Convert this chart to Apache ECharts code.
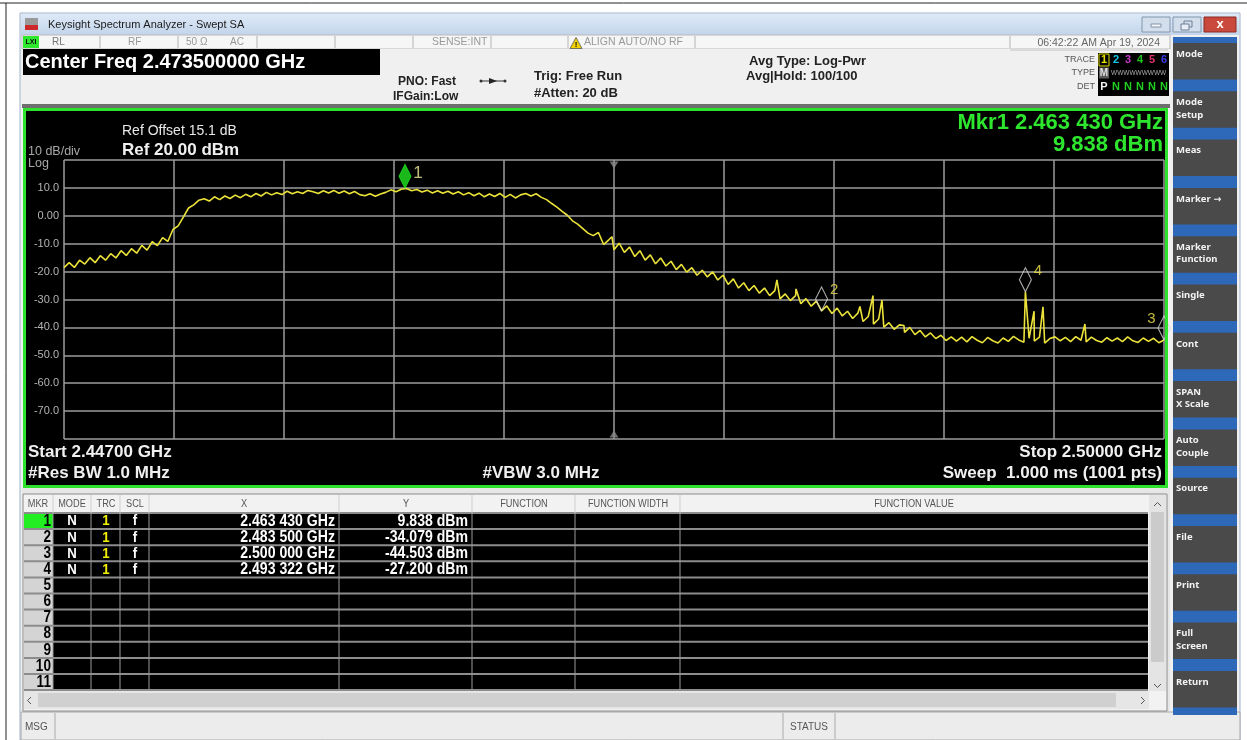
<!DOCTYPE html>
<html><head><meta charset="utf-8">
<script src="https://cdn.jsdelivr.net/npm/echarts@6/dist/echarts.min.js"></script>
<style>html,body{margin:0;padding:0;background:#fff;overflow:hidden}#c{width:1247px;height:740px}</style>
</head><body><div id="c"></div>
<script>
// ---------------- data ----------------
const startGHz = 2.447;
const stopGHz = 2.500;
const centerGHz = 2.4735;
const refLevel = 20;
const refOffset = 15.1;
const traceStepMHz = 0.25;
const traceLevels = [
 -18.6,-16.8,-18.5,-15.9,-17.3,-15.0,-16.8,-14.3,-15.9,-13.6,
 -15.1,-12.5,-14.2,-11.8,-13.4,-10.6,-12.3,-9.3,-10.7,-7.8,
 -9.2,-4.9,-3.6,-0.5,2.8,3.9,5.6,6.1,5.3,6.8,
 5.8,7.1,
 6.2,7.4,6.5,7.7,6.8,8.0,7.1,8.4,7.5,8.3,7.6,8.8,7.9,8.6,8.0,9.1,
 8.6,8.0,9.0,8.2,9.1,8.1,8.9,7.9,8.7,7.6,7.2,7.9,7.0,7.8,8.4,9.3,8.6,9.5,9.8,9.0,
 9.4,8.5,9.2,8.2,9.0,8.1,8.8,7.8,8.6,7.5,8.3,7.2,8.1,6.8,7.8,6.9,8.0,6.6,7.7,6.4,
 7.5,8.0,7.1,7.9,
 6.6,5.8,4.4,3.1,1.6,0.2,-1.8,-3.0,-4.6,-6.2,-7.1,-6.0,-10.3,-8.6,-12.2,-9.8,
 -13.1,-11.2,-14.6,-12.5,-15.9,-14.0,-17.2,-15.1,-18.0,-16.3,-19.3,-17.4,-20.2,-18.6,
 -21.3,-19.5,-21.9,-20.1,-23.0,-21.3,-24.6,-22.6,-25.9,-24.0,-26.8,-25.0,-27.7,-25.9,
 -28.6,-26.8,-29.8,-28.0,-30.4,-28.6,-31.5,-29.7,-32.4,-30.6,-34.1,-32.3,-35.0,-33.1,
 -35.9,-34.2,-36.8,-34.9,-37.9,-36.1,-38.8,-37.0,-39.9,-38.3,-40.7,-39.1,-41.8,-40.0,
 -42.6,-41.1,-43.4,-42.0,-44.0,-42.8,-44.7,-43.4,-44.9,-43.5,-45.2,-43.3,-44.6,-45.5,
 -43.6,-44.8,-45.6,-43.8,-45.0,-43.2,-44.5,-45.3,-43.9,-44.9,-43.5,-45.6,-44.0,-43.4,
 -44.8,-43.6,-45.1,-43.3,-44.6,-45.2,-43.5,-44.7,-45.3,-43.7,-44.9,-43.8,-45.1,-43.4,
 -44.8,-45.4,-43.8,-45.0,-43.9,-45.5,-44.5
];
const spurFreqGHz = [2.47340, 2.48135, 2.48227, 2.48535, 2.48598, 2.48641, 2.48747, 2.493322, 2.49374, 2.49417, 2.49619];
const spurLevels  = [-7.5, -23.0, -26.2, -32.5, -28.6, -30.2, -39.3, -27.2, -34.2, -32.6, -38.8];
const markerIds = [1, 2, 3, 4];
const markerFreqGHz = [2.463430, 2.483500, 2.500000, 2.493322];
const markerLevels = [9.838, -34.079, -44.503, -27.200];
const markerModes = ['N','N','N','N'];
const markerTraces = ['1','1','1','1'];
const markerScales = ['f','f','f','f'];
const tableRowCount = 11;
const softkeys = [['Mode'],['Mode','Setup'],['Meas'],['Marker \u2192'],['Marker','Function'],['Single'],['Cont'],['SPAN','X Scale'],['Auto','Couple'],['Source'],['File'],['Print'],['Full','Screen'],['Return']];

// ---------------- helpers ----------------
const SANS = '"Liberation Sans", Arial, Helvetica, sans-serif';
const UI = '"Noto Sans", "DejaVu Sans", sans-serif';
const G = [];
function R(x,y,w,h,fill,z,stroke,lw){G.push({type:'rect',silent:true,z:(z==null?-5:z),shape:{x:x,y:y,width:w,height:h},style:{fill:fill||'none',stroke:stroke||'none',lineWidth:lw||0}});}
function L(x1,y1,x2,y2,c,lw,z){G.push({type:'line',silent:true,z:(z==null?-4:z),shape:{x1:x1,y1:y1,x2:x2,y2:y2},style:{stroke:c,lineWidth:lw||1}});}
function P(pts,fill,stroke,lw,z){G.push({type:'polygon',silent:true,z:(z==null?-4:z),shape:{points:pts},style:{fill:fill||'none',stroke:stroke||'none',lineWidth:lw||0}});}
function PL(pts,stroke,lw,z){G.push({type:'polyline',silent:true,z:(z==null?-4:z),shape:{points:pts},style:{fill:'none',stroke:stroke,lineWidth:lw||1}});}
function T(x,y,t,o){o=o||{};G.push({type:'text',silent:true,z:(o.z==null?20:o.z),x:x,y:y,scaleX:o.sx||1,style:{text:String(t),fill:o.c||'#000',font:(o.w||'normal')+' '+(o.s||12)+'px '+(o.f||SANS),textAlign:o.a||'left',align:o.a||'left',textVerticalAlign:'middle',verticalAlign:'middle'}});}
function fmtGHz(f){const s=f.toFixed(6);return s.slice(0,5)+' '+s.slice(5)+' GHz';}
function fmtDbm(v){return v.toFixed(3)+' dBm';}

// ---------------- chrome ----------------
R(0,0,1247,740,'#ffffff',-30);
L(0,3,1247,3,'#222',1,-29);
L(6,3,6,740,'#222',1,-29);
R(20,13,1220,727,'#f0f0f0',-28,'#9fb4cc',1);
R(21,14,1218,21,{type:'linear',x:0,y:0,x2:0,y2:1,colorStops:[{offset:0,color:'#dde9f7'},{offset:1,color:'#c3d5eb'}]},-27);
R(25,18,13,7,'#9a9a9a',-26); R(25,25,13,5,'#cc2a2a',-26);
T(48,25,'Keysight Spectrum Analyzer - Swept SA',{s:11,c:'#1a1a1a'});
R(1142,17,28,15,'#d3deec',-26,'#8296ad',1); R(1151,24,10,3,'#f4f7fb',-25,'#6d7f95',0.8);
R(1173,17,28,15,'#d3deec',-26,'#8296ad',1); R(1184,21,8,6,'none',-25,'#6d7f95',1); R(1181,24,8,6,'#e8eef6',-25,'#6d7f95',1);
R(1204,17,32,15,'#c9493c',-26,'#8a2a22',1); T(1220,24,'x',{s:13,w:'bold',c:'#fff',a:'center'});

// status row
R(22,35,1148,14,'#f6f6f6',-26,'#b8b8b8',1);
[100,178,257,335,413,491,568,695,1010].forEach(x=>L(x,36,x,48,'#b4b4b4',1,-25));
R(23,36,16,12,'#2ee82e',-25); T(31,42,'LXI',{s:7,w:'bold',c:'#111',a:'center'});
T(52,42,'RL',{s:10,c:'#777'});
T(128,42,'RF',{s:10,c:'#999'});
T(186,42,'50 \u03A9',{s:10,c:'#999'});
T(230,42,'AC',{s:10,c:'#999'});
T(432,42,'SENSE:INT',{s:10.5,c:'#999'});
P([[570,48.5],[576,37.5],[582,48.5]],'#f2d200','#555',0.8,-24); T(576,44.5,'!',{s:8,w:'bold',a:'center'});
T(584,42,'ALIGN AUTO/NO RF',{s:10.5,c:'#999'});
T(1160,43,'06:42:22 AM Apr 19, 2024',{s:10.5,c:'#666',a:'right'});

// header
R(22,49,1148,56,'#f0f0f0',-26);
L(1010,50,1168,50,'#c4c4c4',1,-25);
R(23,49,357,26,'#000',-25);
T(25,62.5,'Center Freq '+centerGHz.toFixed(9)+' GHz',{s:20,w:'bold',c:'#fff'});
T(398,82,'PNO: Fast',{s:12,w:'bold',c:'#222'});
T(393,97,'IFGain:Low',{s:12,w:'bold',c:'#222'});
L(481,81,505,81,'#333',1,-20); P([[489,78],[497,81],[489,84]],'#222','none',0,-20);
G.push({type:'circle',silent:true,z:-20,shape:{cx:481,cy:81,r:1.5},style:{fill:'#333'}});
G.push({type:'circle',silent:true,z:-20,shape:{cx:505,cy:81,r:1.5},style:{fill:'#333'}});
T(534,76,'Trig: Free Run',{s:13,w:'bold',c:'#222'});
T(534,93,'#Atten: 20 dB',{s:13,w:'bold',c:'#222'});
T(749,61,'Avg Type: Log-Pwr',{s:13,w:'bold',c:'#222'});
T(746,76,'Avg|Hold: 100/100',{s:13,w:'bold',c:'#222'});
T(1095,60,'TRACE',{s:9,c:'#555',a:'right'});
T(1095,73,'TYPE',{s:9,c:'#555',a:'right'});
T(1095,87,'DET',{s:9,c:'#555',a:'right'});
R(1098,53,71,43,'#000',-24);
const trColors=['#e8e000','#18c8e8','#c838c8','#22c822','#e03070','#3a3ae8'];
trColors.forEach((c,i)=>T(1104+i*12,60,i+1,{s:11,w:'bold',c:c,a:'center'}));
R(1099,54,10,12,'none',-23,'#e8e000',1);
R(1099,67.5,10,11,'#5a5a5a',-23); T(1104,73,'M',{s:10,w:'bold',c:'#e0e0e0',a:'center'});
T(1111,73,'WWWWWWWWW',{s:6.5,c:'#aaa'});
T(1104,87,'P',{s:11,w:'bold',c:'#f0f0f0',a:'center'});
for(let i=1;i<6;i++)T(1104+i*12,87,'N',{s:11,w:'bold',c:'#22d022',a:'center'});

// plot panel
R(22,104,1148,4,'#6e6e6e',-26);
R(23,108,1145,380,'#000',-25);
R(24.5,109.5,1142,377,'none',30,'#2de22d',3);
T(28,152,'10 dB/div',{s:12.5,c:'#a8a8a8'});
T(28,164,'Log',{s:12.5,c:'#a8a8a8'});
T(122,131,'Ref Offset '+refOffset.toFixed(1)+' dB',{s:14,c:'#e8e8e8'});
T(122,150,'Ref '+refLevel.toFixed(2)+' dBm',{s:17,w:'bold',c:'#f0f0f0'});
T(1163,123,'Mkr1 '+fmtGHz(markerFreqGHz[0]),{s:22,w:'bold',c:'#2ee62e',a:'right'});
T(1163,145,fmtDbm(markerLevels[0]),{s:22,w:'bold',c:'#2ee62e',a:'right'});
T(28,452,'Start '+startGHz.toFixed(5)+' GHz',{s:17,w:'bold',c:'#f0f0f0'});
T(28,473,'#Res BW 1.0 MHz',{s:17,w:'bold',c:'#f0f0f0'});
T(541,473,'#VBW 3.0 MHz',{s:17,w:'bold',c:'#f0f0f0',a:'center'});
T(1162,452,'Stop '+stopGHz.toFixed(5)+' GHz',{s:17,w:'bold',c:'#f0f0f0',a:'right'});
T(1162,473,'Sweep  1.000 ms (1001 pts)',{s:17,w:'bold',c:'#f0f0f0',a:'right'});

// marker table
R(22,488,1148,225,'#e6e6e6',-26);
R(23,494,1144,217,'#f2f2f2',-25,'#8c8c8c',1);
const colX=[24,53,91,120,149,339,472,575,680,1148];
const hdr=[['MKR',38],['MODE',72],['TRC',106],['SCL',135],['X',244],['Y',406],['FUNCTION',524],['FUNCTION WIDTH',628],['FUNCTION VALUE',914]];
hdr.forEach(h=>T(h[1],504,h[0],{s:10,c:'#555',a:'center',sx:0.92}));
const rowH=16.1, rowTop=513;
R(53,rowTop,1095,rowH*tableRowCount,'#000',-24);
for(let i=0;i<tableRowCount;i++){
  const y0=rowTop+i*rowH, yc=y0+8.3;
  R(24,y0,29,rowH,i===0?'#22ee22':'#d4d4d4',-23);
  T(51,yc,i+1,{s:16,w:'bold',c:'#000',a:'right',sx:0.85});
  if(i<markerIds.length){
    T(72,yc,markerModes[i],{s:15,w:'bold',c:'#fff',a:'center',sx:0.88});
    T(106,yc,markerTraces[i],{s:15,w:'bold',c:'#f2f000',a:'center',sx:0.88});
    T(135,yc,markerScales[i],{s:15,w:'bold',c:'#fff',a:'center',sx:0.88});
    T(335,yc,fmtGHz(markerFreqGHz[i]),{s:16,w:'bold',c:'#fff',a:'right',sx:0.88});
    T(468,yc,fmtDbm(markerLevels[i]),{s:16,w:'bold',c:'#fff',a:'right',sx:0.88});
  }
}
for(let i=0;i<=tableRowCount;i++)L(24,rowTop+i*rowH,1148,rowTop+i*rowH,'#8c8c8c',2,-22);
colX.slice(1,9).forEach(x=>{L(x,495,x,rowTop,'#cfcfcf',1,-22);L(x,rowTop,x,rowTop+rowH*tableRowCount,'#9a9a9a',1,-22);});
R(1149,495,17,196,'#e4e4e4',-23); R(1151,512,13,150,'#cbcbcb',-22);
PL([[1154,506],[1157.5,502.5],[1161,506]],'#555',1,-21);
PL([[1154,684],[1157.5,687.5],[1161,684]],'#555',1,-21);
R(24,691,1125,18,'#e6e6e6',-23); R(38,693,1078,14,'#d0d0d0',-22);
PL([[31,697],[27.5,700.5],[31,704]],'#555',1,-21);
PL([[1141,697],[1144.5,700.5],[1141,704]],'#555',1,-21);

// bottom status bar
R(21,712,1219,28,'#ececec',-26,'#a8a8a8',1);
T(25,727,'MSG',{s:10,c:'#555'});
L(55,713,55,739,'#aaa',1,-25);
L(783,713,783,739,'#aaa',1,-25); L(835,713,835,739,'#aaa',1,-25);
T(809,727,'STATUS',{s:10,c:'#555',a:'center'});

// softkeys
R(1173,37,64,678,'#2e68b8',-26);
softkeys.forEach((k,i)=>{
  const top=43+i*48.3;
  R(1173,top,64,36.5,'#4a4a4a',-25);
  k.forEach((ln,j)=>T(1176,top+11+j*12.5,ln,{s:9.5,w:'bold',c:'#f2f2f2',f:UI}));
});

// ---------------- chart ----------------
const toOff = f => (f - startGHz) * 1000;
const traceData = traceLevels.map((v,i)=>[i*traceStepMHz, v])
  .concat(spurFreqGHz.map((f,i)=>[toOff(f), spurLevels[i]]))
  .sort((a,b)=>a[0]-b[0]);
const spanMHz = (stopGHz - startGHz) * 1000;

const markerData = markerIds.map((id,i)=>({
  value:[toOff(markerFreqGHz[i]), markerLevels[i]],
  itemStyle: i===0 ? {color:'#22e622', borderColor:'#22e622', borderWidth:1}
                   : {color:'rgba(0,0,0,0)', borderColor:'#d4d4d4', borderWidth:1.2},
  label:{position: id===3 ? 'left' : 'right', color: i===0 ? '#f0ec9a' : '#f0e24a',
         offset: i===0 ? [0,-3] : [0,-9], fontSize: i===0 ? 17 : 15}
}));

const chart = echarts.init(document.getElementById('c'), null, {renderer:'canvas', width:1247, height:740});
chart.setOption({
  animation:false,
  backgroundColor:'transparent',
  graphic:{elements:G},
  grid:{left:64, top:160, width:1100, height:279, containLabel:false},
  xAxis:{type:'value', min:0, max:spanMHz, interval:spanMHz/10, z:1,
    axisLine:{show:false}, axisTick:{show:false}, axisLabel:{show:false},
    splitLine:{show:true, lineStyle:{color:'#9c9c9c', width:1.5}}},
  yAxis:{type:'value', min:refLevel-100, max:refLevel, interval:10, z:1,
    axisLine:{show:false}, axisTick:{show:false},
    axisLabel:{show:true, color:'#b4b4b4', fontSize:11, fontFamily:SANS, margin:5,
      showMinLabel:false, showMaxLabel:false,
      formatter:v => v===0 ? '0.00' : v.toFixed(1)},
    splitLine:{show:true, lineStyle:{color:'#9c9c9c', width:1.5}}},
  series:[
    {type:'line', data:traceData, showSymbol:false, symbol:'none', z:3, silent:true,
      lineStyle:{color:'#ebe23a', width:1.6}},
    {type:'scatter', z:4, silent:true, symbol:'triangle', symbolSize:[9,7],
      itemStyle:{color:'#8a8a8a'},
      data:[{value:[toOff(centerGHz), refLevel], symbolRotate:180, symbolOffset:[0,5]},
            {value:[toOff(centerGHz), refLevel-100], symbolRotate:0, symbolOffset:[0,-5]}]},
    {type:'scatter', z:5, silent:true, symbol:'diamond', symbolSize:[12,24], symbolOffset:[0,-12],
      data:markerData,
      label:{show:true, formatter:p=>String(markerIds[p.dataIndex]), fontSize:15, fontFamily:SANS,
        distance:2, offset:[0,-9]}}
  ]
});
</script></body></html>
